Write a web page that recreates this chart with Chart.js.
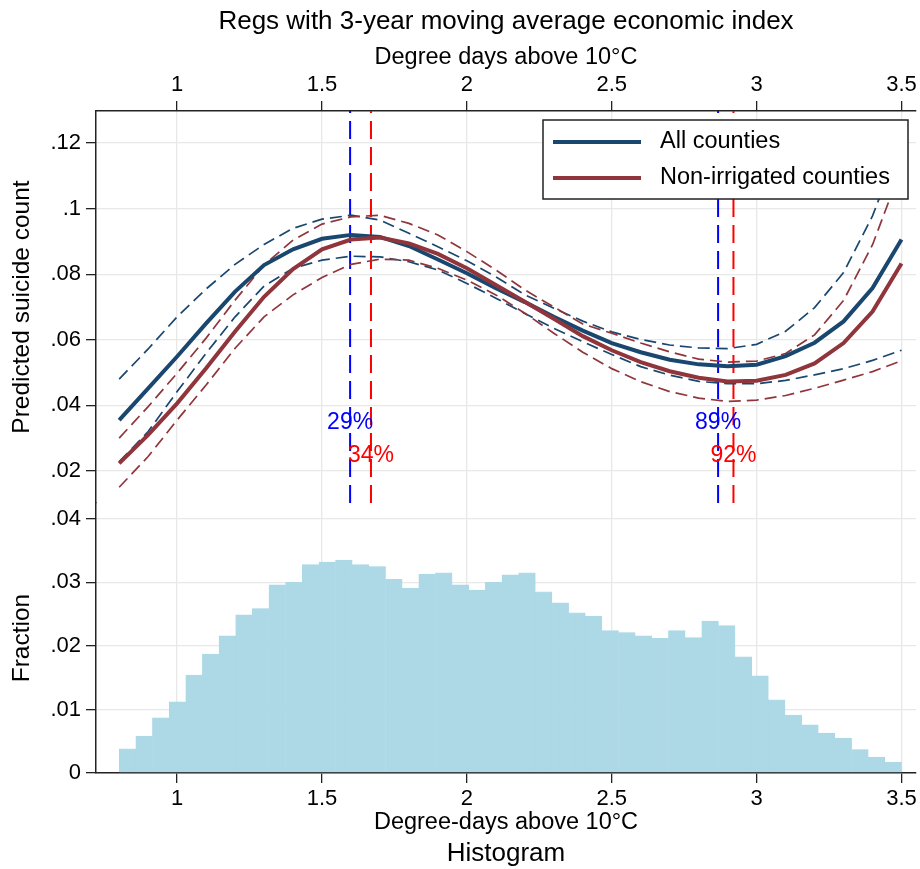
<html>

<head>
    <title>Regs with 3-year moving average economic index</title>
    <script src="https://cdn.jsdelivr.net/npm/chart.js"></script>
</head>

<style>
    body {
        margin: 0;
        background-color: #ffffff;
    }
</style>

<body>
    <canvas id="myChart" width="920" height="869"></canvas>

    <script>
        // degree days (x) where the predictions were evaluated
        const xs = [0.8, 0.9, 1.0, 1.1, 1.2, 1.3, 1.4, 1.5, 1.6, 1.7, 1.8, 1.9, 2.0, 2.1,
            2.2, 2.3, 2.4, 2.5, 2.6, 2.7, 2.8, 2.9, 3.0, 3.1, 3.2, 3.3, 3.4, 3.5];

        // All counties: fit and 95% band
        const allFit = [0.0355, 0.0452, 0.0549, 0.0650, 0.0747, 0.0828, 0.0876, 0.0908, 0.0920, 0.0914, 0.0886, 0.0845, 0.0803, 0.0757,
            0.0715, 0.0670, 0.0628, 0.0590, 0.0562, 0.0539, 0.0525, 0.0519, 0.0524, 0.0550, 0.0591, 0.0656, 0.0758, 0.0906];
        const allHi = [0.0480, 0.0572, 0.0670, 0.0755, 0.0830, 0.0891, 0.0940, 0.0968, 0.0980, 0.0965, 0.0925, 0.0884, 0.0841, 0.0792,
            0.0737, 0.0696, 0.0657, 0.0624, 0.0601, 0.0584, 0.0575, 0.0573, 0.0586, 0.0626, 0.0698, 0.0805, 0.0978, 0.1210];
        const allLo = [0.0228, 0.0320, 0.0442, 0.0559, 0.0670, 0.0764, 0.0818, 0.0843, 0.0855, 0.0853, 0.0838, 0.0813, 0.0772, 0.0727,
            0.0680, 0.0635, 0.0594, 0.0555, 0.0518, 0.0492, 0.0473, 0.0466, 0.0466, 0.0476, 0.0493, 0.0512, 0.0537, 0.0568];

        // Non-irrigated counties: fit and 95% band
        const nonFit = [0.0223, 0.0310, 0.0406, 0.0513, 0.0625, 0.0731, 0.0816, 0.0876, 0.0906, 0.0912, 0.0894, 0.0862, 0.0818, 0.0767,
            0.0716, 0.0664, 0.0611, 0.0568, 0.0532, 0.0504, 0.0484, 0.0473, 0.0475, 0.0493, 0.0528, 0.0590, 0.0686, 0.0833];
        const nonHi = [0.0300, 0.0396, 0.0498, 0.0605, 0.0721, 0.0828, 0.0904, 0.0953, 0.0975, 0.0980, 0.0955, 0.0920, 0.0869, 0.0813,
            0.0752, 0.0700, 0.0648, 0.0620, 0.0590, 0.0563, 0.0541, 0.0532, 0.0535, 0.0558, 0.0615, 0.0720, 0.0890, 0.1125];
        const nonLo = [0.0150, 0.0244, 0.0355, 0.0462, 0.0574, 0.0670, 0.0737, 0.0790, 0.0830, 0.0846, 0.0843, 0.0818, 0.0782, 0.0737,
            0.0681, 0.0620, 0.0562, 0.0512, 0.0472, 0.0442, 0.0422, 0.0412, 0.0416, 0.0430, 0.0452, 0.0477, 0.0503, 0.0536];

        // turning points and share of observations below them
        const markerX = [1.597, 1.669, 2.867, 2.920];
        const markerText = ['29%', '34%', '89%', '92%'];
        const markerColor = ['#0000ff', '#ff0000', '#0000ff', '#ff0000'];
        const markerLabelY = [0.0347, 0.0247, 0.0347, 0.0247];

        // histogram of degree days (fraction per bin)
        const binStart = 0.8;
        const binWidth = 2.7 / 47;
        const histFrac = [0.0038, 0.0058, 0.0087, 0.0112, 0.0154, 0.0187, 0.0216, 0.0249, 0.0259, 0.0296,
            0.0300, 0.0328, 0.0332, 0.0335, 0.0328, 0.0325, 0.0305, 0.0291, 0.0313, 0.0315,
            0.0296, 0.0288, 0.0300, 0.0312, 0.0315, 0.0285, 0.0268, 0.0252, 0.0247, 0.0224,
            0.0221, 0.0216, 0.0212, 0.0224, 0.0213, 0.0239, 0.0232, 0.0183, 0.0153, 0.0115,
            0.0091, 0.0076, 0.0063, 0.0055, 0.0037, 0.0025, 0.0017];

        // axis ticks
        const xTicks = [1, 1.5, 2, 2.5, 3, 3.5];
        const xTickLabels = ['1', '1.5', '2', '2.5', '3', '3.5'];
        const yTicks = [0.02, 0.04, 0.06, 0.08, 0.1, 0.12];
        const yTickLabels = ['.02', '.04', '.06', '.08', '.1', '.12'];
        const hTicks = [0, 0.01, 0.02, 0.03, 0.04];
        const hTickLabels = ['0', '.01', '.02', '.03', '.04'];

        const xMin = 0.72, xMax = 3.55;
        const yMin = 0.0102, yMax = 0.1298;
        const hMin = 0, hMax = 0.0425;

        const NAVY = '#1a476f';
        const MAROON = '#90353b';
        const FONT = '"Liberation Sans", Arial, Helvetica, sans-serif';

        Chart.defaults.font.family = FONT;
        Chart.defaults.color = '#000';

        const pts = (ys) => xs.map((x, i) => ({ x: x, y: ys[i] }));

        const datasets = [
            { label: 'Non-irrigated counties', data: pts(nonFit), borderColor: MAROON, borderWidth: 4 },
            { label: 'All counties', data: pts(allFit), borderColor: NAVY, borderWidth: 4 },
            { label: 'non hi', data: pts(nonHi), borderColor: MAROON, borderWidth: 1.7, borderDash: [12, 6] },
            { label: 'non lo', data: pts(nonLo), borderColor: MAROON, borderWidth: 1.7, borderDash: [12, 6] },
            { label: 'all hi', data: pts(allHi), borderColor: NAVY, borderWidth: 1.7, borderDash: [12, 6] },
            { label: 'all lo', data: pts(allLo), borderColor: NAVY, borderWidth: 1.7, borderDash: [12, 6] }
        ];
        markerX.forEach((x, i) => {
            datasets.push({
                label: 'line ' + markerText[i],
                data: [{ x: x, y: yMin }, { x: x, y: yMax }],
                borderColor: markerColor[i], borderWidth: 2, borderDash: [18, 8]
            });
        });
        datasets.forEach(d => {
            d.type = 'line';
            d.pointRadius = 0;
            d.fill = false;
            d.tension = 0;
            d.yAxisID = 'y';
            d.xAxisID = 'x';
        });
        datasets.push({
            type: 'bar',
            label: 'Histogram',
            data: histFrac.map((f, i) => ({ x: binStart + (i + 0.5) * binWidth, y: f })),
            backgroundColor: '#add8e6',
            borderColor: '#add8e6',
            borderWidth: 0.6,
            barPercentage: 1,
            categoryPercentage: 1,
            xAxisID: 'x',
            yAxisID: 'yh'
        });

        const setTicks = (values) => (axis) => {
            axis.ticks = values.map(v => ({ value: v }));
        };

        const gridStyle = { color: '#e8e8e8', lineWidth: 1.3, tickLength: 10, tickColor: '#222', offset: false };
        const borderStyle = { color: '#222', width: 1.5 };

        // draws the % labels and the boxed legend
        const overlay = {
            id: 'overlay',
            afterDraw(chart) {
                const { ctx, chartArea, scales } = chart;
                ctx.save();
                ctx.font = '23px ' + FONT;
                ctx.textAlign = 'center';
                ctx.textBaseline = 'middle';
                markerX.forEach((x, i) => {
                    ctx.fillStyle = markerColor[i];
                    ctx.fillText(markerText[i], scales.x.getPixelForValue(x), scales.y.getPixelForValue(markerLabelY[i]));
                });

                const w = 365, h = 79;
                const bx = chartArea.right - 8 - w, by = chartArea.top + 9;
                ctx.fillStyle = '#fff';
                ctx.fillRect(bx, by, w, h);
                ctx.strokeStyle = '#222';
                ctx.lineWidth = 1.5;
                ctx.strokeRect(bx, by, w, h);
                const items = [chart.data.datasets[1], chart.data.datasets[0]];
                ctx.font = '23.5px ' + FONT;
                ctx.textAlign = 'left';
                items.forEach((d, i) => {
                    const yy = by + 22 + i * 36;
                    ctx.strokeStyle = d.borderColor;
                    ctx.lineWidth = 4;
                    ctx.beginPath();
                    ctx.moveTo(bx + 10, yy);
                    ctx.lineTo(bx + 98, yy);
                    ctx.stroke();
                    ctx.fillStyle = '#000';
                    ctx.fillText(d.label, bx + 117, yy);
                });
                ctx.restore();
            }
        };

        const config = {
            type: 'line',
            data: { datasets: datasets },
            options: {
                responsive: false,
                animation: false,
                events: [],
                layout: { padding: { left: 0, right: 4, top: 0, bottom: 0 } },
                plugins: {
                    legend: { display: false },
                    tooltip: { enabled: false },
                    title: {
                        display: true,
                        fullSize: false,
                        text: 'Regs with 3-year moving average economic index',
                        font: { size: 26, weight: 'normal' },
                        padding: { top: 6, bottom: 4 }
                    },
                    subtitle: {
                        display: true,
                        fullSize: false,
                        position: 'bottom',
                        text: 'Histogram',
                        font: { size: 26 },
                        padding: { top: 1, bottom: 0 }
                    }
                },
                scales: {
                    x: {
                        type: 'linear', position: 'bottom', min: xMin, max: xMax, offset: false,
                        afterBuildTicks: setTicks(xTicks),
                        afterFit: (s) => { s.height = 63.8; s.paddingRight = 0; s.paddingLeft = 0; },
                        ticks: { font: { size: 22 }, padding: 3, maxRotation: 0, autoSkip: false,
                            callback: (v, i) => xTickLabels[i] },
                        grid: gridStyle, border: borderStyle,
                        title: { display: true, text: 'Degree-days above 10°C', font: { size: 23.5 }, padding: { top: 0, bottom: 0 } }
                    },
                    x2: {
                        type: 'linear', position: 'top', min: xMin, max: xMax, offset: false,
                        afterBuildTicks: setTicks(xTicks),
                        afterFit: (s) => { s.height = 69.8; s.paddingRight = 0; s.paddingLeft = 0; },
                        ticks: { font: { size: 22 }, padding: 3, maxRotation: 0, autoSkip: false,
                            callback: (v, i) => xTickLabels[i] },
                        grid: Object.assign({}, gridStyle, { drawOnChartArea: false }), border: borderStyle,
                        title: { display: true, text: 'Degree days above 10°C', font: { size: 23.5 }, padding: { top: 2, bottom: 0 } }
                    },
                    yh: {
                        type: 'linear', position: 'left', stack: 'panels', stackWeight: 270,
                        min: hMin, max: hMax,
                        afterBuildTicks: setTicks(hTicks),
                        afterFit: (s) => { s.width = 96; },
                        ticks: { font: { size: 22 }, padding: 5, autoSkip: false, callback: (v, i) => hTickLabels[i] },
                        grid: gridStyle, border: borderStyle,
                        title: { display: true, text: 'Fraction', font: { size: 24.5 }, padding: { top: 8, bottom: 0 } }
                    },
                    y: {
                        type: 'linear', position: 'left', stack: 'panels', stackWeight: 392,
                        min: yMin, max: yMax,
                        afterBuildTicks: setTicks(yTicks),
                        afterFit: (s) => { s.width = 96; },
                        ticks: { font: { size: 22 }, padding: 5, autoSkip: false, callback: (v, i) => yTickLabels[i] },
                        grid: gridStyle, border: borderStyle,
                        title: { display: true, text: 'Predicted suicide count', font: { size: 24.5 }, padding: { top: 8, bottom: 0 } }
                    }
                }
            },
            plugins: [overlay]
        };

        const myChart = new Chart(document.getElementById('myChart'), config);
    </script>
</body>

</html>
